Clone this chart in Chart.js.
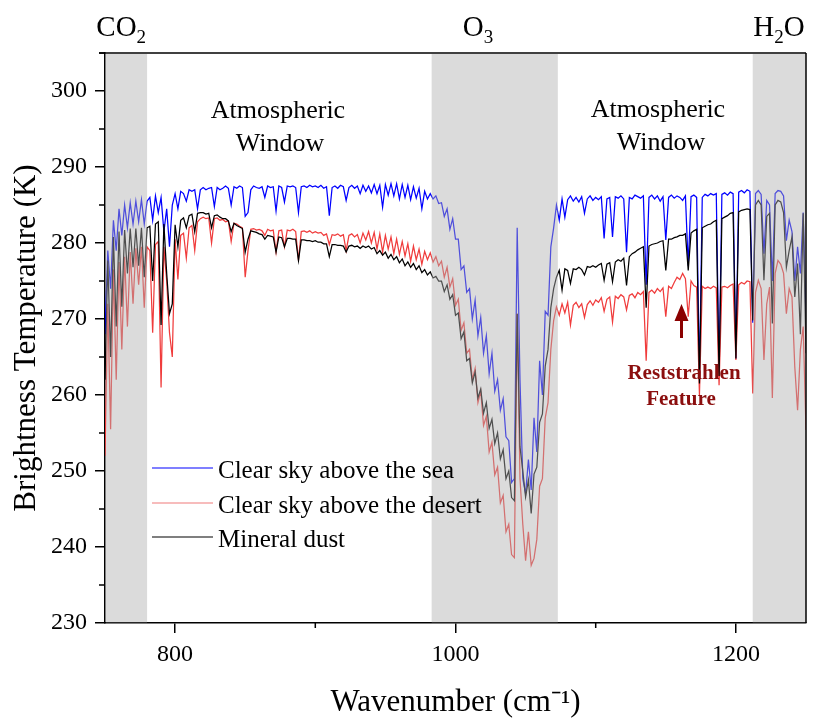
<!DOCTYPE html>
<html><head><meta charset="utf-8">
<script src="https://cdn.jsdelivr.net/npm/chart.js@4"></script>
<style>html,body{margin:0;padding:0;background:#fff}canvas{display:block}</style>
</head><body>
<canvas id="c" width="813" height="720"></canvas>
<script>
// ---------- data ----------
const wavenumber = [
750,752,754,756,758,760,762,764,766,768,770,772,774,776,778,780,782,784,786,788,
790,792,794,796,798,800,802,804,806,808,810,812,814,816,818,820,822,824,826,828,
830,832,834,836,838,840,842,844,846,848,850,852,854,856,858,860,862,864,866,868,
870,872,874,876,878,880,882,884,886,888,890,892,894,896,898,900,902,904,906,908,
910,912,914,916,918,920,922,924,926,928,930,932,934,936,938,940,942,944,946,948,
950,952,954,956,958,960,962,964,966,968,970,972,974,976,978,980,982,984,986,988,
990,992,994,996,998,1000,1002,1004,1006,1008,1010,1012,1014,1016,1018,1020,1022,1024,1026,1028,
1030,1032,1034,1036,1038,1040,1042,1044,1046,1048,1050,1052,1054,1056,1058,1060,1062,1064,1066,1068,
1070,1072,1074,1076,1078,1080,1082,1084,1086,1088,1090,1092,1094,1096,1098,1100,1102,1104,1106,1108,
1110,1112,1114,1116,1118,1120,1122,1124,1126,1128,1130,1132,1134,1136,1138,1140,1142,1144,1146,1148,
1150,1152,1154,1156,1158,1160,1162,1164,1166,1168,1170,1172,1174,1176,1178,1180,1182,1184,1186,1188,
1190,1192,1194,1196,1198,1200,1202,1204,1206,1208,1210,1212,1214,1216,1218,1220,1222,1224,1226,1228,
1230,1232,1234,1236,1238,1240,1242,1244,1246,1248,1250];

const seaBT = [
268,279,274,283,279,284.5,281,285,282,285.3,
282.5,285.5,282.8,285.7,282.5,285.5,286,283,286.2,284,
286,281.5,284.5,279.5,285,286.5,284.5,286.8,286.5,285.5,
287,286.8,287,284.5,287,287.3,287,287.2,287.3,284.8,
287.3,287,287.2,287.5,287.2,285,287.4,287.2,287.5,287.3,
283.5,284,287,287.5,287.3,287.2,287.4,286,287.5,287.3,
287.4,284.2,287.5,287.3,285.4,287.5,287.4,287.5,287.3,284,
287.4,287.5,287.3,287.6,287.4,287.5,287.3,287.6,287.2,287.4,
283.6,287.3,287.5,287.2,287.6,287.4,285.6,287.3,287.6,287.2,
287.5,286.5,287.6,286.8,287.5,286.6,287.7,286.5,287.6,284.7,
287.7,286.3,287.8,286.2,287.8,285.8,287.7,286,287.6,285.7,
287.4,285.9,287.2,284.5,286.8,285.8,286.5,285.8,286.2,285.2,
285.3,283.5,284.5,281.8,283.2,280.5,280.5,276.5,277,273.5,
274,270,272.5,267.8,270.2,265.5,267.8,262.8,265.5,260.5,
262,258,259.5,254.5,254,248.5,249,282,262,249,
247,251.5,247.5,257,252.5,264.5,260,271,270.5,279.5,
282,285,283,285.8,283.4,285.7,286.2,285.5,286,285.4,
286.1,283.9,285.8,286.2,285.6,286,285.7,286.1,280.6,285.8,
286,280.8,286.1,285.9,286.2,285.8,278.8,286,285.8,286.3,
286.1,285.9,286.2,274.5,286,286.3,285.8,286.2,285.5,286.1,
280.4,286,286.3,285.9,286.2,286,285.6,286.2,277,286.1,
286.3,286,262,286,286.4,286.2,286.5,286.3,286.5,263,
286.4,286.6,286.3,286.7,286.5,264.8,286.7,286.9,286.6,287,
286.8,269.5,286.5,286.9,286.4,278.6,285.6,285,275,286.5,
286.9,286.8,286.2,280.3,283,281.5,275,279.5,276,284,
270];

const desertBT = [
252,272,255.5,276.5,262,277.5,266,278.2,269,278.8,
272,279.3,274.5,279.5,271.5,279.5,279,268.2,279.8,280.2,
261,279.5,275,268.2,265,280.5,275.2,281,281.3,278,
282,282.3,279,282.8,283.2,283.4,283.2,283.3,280,283.2,
283.3,283,283.1,282.8,282.9,280.2,282.6,282.5,282.2,282,
275.5,279,281.8,281.9,281.7,281.8,281.6,281,281.8,281.6,
281.7,278.8,281.6,281.7,279.5,281.7,281.6,281.8,281.5,277.7,
281.5,281.6,281.4,281.6,281.3,281.5,281.3,281.4,281,281.2,
279.8,281.1,281,281.2,280.9,281.1,279,281,281.2,280.8,
281.1,280,281.3,280.4,281.5,280,281.4,279.2,281.2,278.8,
281,279.2,280.8,278.6,280.5,278.5,280.2,278.3,279.9,277.6,
279.6,277.8,279.2,277.2,278.9,277.8,278.7,277.5,278.2,277,
277.6,275.5,276.8,274.2,275.3,271.8,272.6,268.5,269.5,265.5,
266,262,263.5,259,260.5,256,257.2,252.5,253.8,249.5,
250.5,245.8,246.8,242,243,239,238.6,270.7,249,243,
238.2,242,237.6,238.5,241,248,249,257,259,266,
269.8,271.6,270.5,272,270.8,272.2,269.2,271.8,272.2,271.5,
272,270.2,271.9,272.4,271.8,272.5,272.2,272.8,271,272.6,
272.9,269.6,273,272.7,273.2,272.9,271.2,273.1,273.3,272.8,
273.5,273.2,273.6,264.5,273.5,273.8,273.4,274,273.6,274.1,
270.3,274.3,274,274.8,275.5,275.2,276,275.3,270.3,275,
274.4,274.2,260,274.3,274,274.2,274,274.3,274.1,261.3,
274.2,274.3,274.1,274.4,274.6,264.6,274.5,274.8,274.6,275,
274.9,260.2,273.5,275.1,274,264.6,272,274.2,259.6,276,
277.7,277.2,276,270.7,274,272.9,263.7,258,266,269,
255.4];

const dustBT = [
262,277.7,265,280.8,269,281.5,271.6,281.7,276,281.9,
276.8,281.9,277,282,275.5,282,282.2,275,282.5,282.8,
269.2,282.5,276,270.7,272,282.4,279.5,283,283.3,282,
283.6,283.8,281.5,283.9,284,284,283.8,283.9,282,283.6,
283.7,283.4,283.2,283.2,282.9,281.5,282.6,282.3,282.1,281.9,
278.8,280.5,281.6,281.5,281.4,281.2,281.1,280.5,281,280.9,
280.8,278.8,280.8,280.7,279.5,280.6,280.6,280.5,280.5,277.7,
280.4,280.4,280.3,280.3,280.2,280.3,280.1,280.1,279.9,279.9,
278.2,279.8,279.8,279.7,279.7,279.6,278.8,279.6,279.7,279.5,
279.6,279.3,279.6,279.4,279.6,279.2,279.4,278.6,279,278.4,
278.8,278,278.5,277.8,278.2,277.4,277.9,277,277.5,276.8,
277.3,276.5,277,276.1,276.5,275.8,276.2,275.4,275.6,275,
275,273.6,274.5,272.6,273.2,270.5,270.8,267.4,268.3,264.5,
264.8,261.6,263,259.6,260.8,257.6,259,255.6,256.8,253.6,
255,251.6,252.8,249,250,246.5,246.1,270.7,253.2,250,
246.6,248.8,244.4,249.6,250.5,256.4,257.5,263.8,266,271.5,
274,275.5,276.4,273.8,276.6,276.4,274.7,276.6,276.5,276.8,
276.5,275.8,276.9,276.8,277,276.8,277.1,277.3,275.1,277.2,
277.4,274.9,277.5,277.8,277.6,278,274.4,278.2,278.6,278.8,
279.1,279.3,279.5,271.5,279.6,279.8,279.9,280,280.2,280.3,
276.4,280.5,280.5,280.7,280.8,281,281,281.2,276.4,281.3,
281.6,281.8,261.5,282,282.2,282.4,282.5,282.8,283,262.5,
283.2,283.4,283.6,283.9,284,264.8,284.1,284.3,284.4,284.5,
284.4,269.8,285,285.6,285,275.1,283.5,283.9,269.4,285,
285.6,285.4,284,276.8,279,280.8,272.9,277.3,268,283.9,
265.5];

const seriesNames = ['Clear sky above the sea', 'Clear sky above the desert', 'Mineral dust'];
const xMajorTicks = [800, 1000, 1200];
const xMinorTicks = [900, 1100];
const yMajorTicks = [230, 240, 250, 260, 270, 280, 290, 300];
const yMinorTicks = [235, 245, 255, 265, 275, 285, 295, 305];
const bandFrom = [750, 983, 1212];
const bandTo = [780, 1073, 1250];
const bandMain = ['CO', 'O', 'H'];
const bandSub = ['2', '3', '2'];
const bandTail = ['', '', 'O'];
const bandLabelAt = [743.8, 1005.2, 1212.4];

// ---------- styling ----------
const SERIF = "'Liberation Serif', 'Times New Roman', serif";
const colors = ['#0000ff', '#f03c3c', '#000000'];
const legendColors = ['#0000ff', '#f07a7a', '#000000'];

const pts = arr => wavenumber.map((x, i) => ({x: x, y: arr[i]}));

const decor = {
  id: 'decor',
  afterDatasetsDraw(chart) {
    const {ctx, chartArea: a, scales: {x, y}} = chart;
    ctx.save();
    ctx.strokeStyle = '#000';
    ctx.lineWidth = 1.5;
    ctx.beginPath(); ctx.moveTo(a.left - 6, a.top); ctx.lineTo(a.right, a.top); ctx.stroke();
    ctx.beginPath();
    yMinorTicks.forEach(v => { const p = y.getPixelForValue(v); ctx.moveTo(a.left - 6, p); ctx.lineTo(a.left, p); });
    xMinorTicks.forEach(v => { const p = x.getPixelForValue(v); ctx.moveTo(p, a.bottom); ctx.lineTo(p, a.bottom + 5); });
    ctx.stroke();
    ctx.fillStyle = 'rgba(175,175,175,0.45)';
    for (let i = 0; i < bandFrom.length; i++) {
      let x0 = x.getPixelForValue(bandFrom[i]);
      let x1 = x.getPixelForValue(bandTo[i]);
      if (bandFrom[i] <= x.min) x0 += 1;
      ctx.fillRect(x0, a.top + 1, x1 - x0, a.bottom - a.top - 1.5);
    }
    ctx.beginPath(); ctx.moveTo(a.right, a.top); ctx.lineTo(a.right, a.bottom); ctx.stroke();

    ctx.fillStyle = '#000';
    ctx.textBaseline = 'alphabetic';
    ctx.textAlign = 'left';
    for (let i = 0; i < bandMain.length; i++) {
      let px = x.getPixelForValue(bandLabelAt[i]);
      ctx.font = '29px ' + SERIF;
      ctx.fillText(bandMain[i], px, 36);
      px += ctx.measureText(bandMain[i]).width;
      ctx.font = '19px ' + SERIF;
      ctx.fillText(bandSub[i], px, 43);
      px += ctx.measureText(bandSub[i]).width;
      if (bandTail[i]) { ctx.font = '29px ' + SERIF; ctx.fillText(bandTail[i], px, 36); }
    }

    ctx.textAlign = 'center';
    ctx.font = '26px ' + SERIF;
    ctx.fillText('Atmospheric', 278, 118);
    ctx.fillText('Window', 280, 151);
    ctx.fillText('Atmospheric', 658, 117);
    ctx.fillText('Window', 661, 150);

    ctx.fillStyle = '#8b0e0e';
    ctx.font = 'bold 21px ' + SERIF;
    ctx.fillText('Reststrahlen', 684, 379);
    ctx.fillText('Feature', 681, 405);
    ctx.fillStyle = '#8b0000';
    ctx.fillRect(680, 320, 3, 18);
    ctx.beginPath();
    ctx.moveTo(681.5, 304); ctx.lineTo(674.5, 321); ctx.lineTo(688.5, 321); ctx.closePath(); ctx.fill();

    const rows = [468, 503, 537];
    ctx.textAlign = 'left';
    ctx.font = '25px ' + SERIF;
    for (let i = 0; i < seriesNames.length; i++) {
      ctx.strokeStyle = legendColors[i];
      ctx.lineWidth = 1.2;
      ctx.beginPath(); ctx.moveTo(152, rows[i]); ctx.lineTo(213, rows[i]); ctx.stroke();
      ctx.fillStyle = '#000';
      ctx.fillText(seriesNames[i], 218, rows[i] + 10);
    }
    ctx.restore();
  }
};

new Chart(document.getElementById('c'), {
  type: 'line',
  data: {
    datasets: [
      {label: seriesNames[0], data: pts(seaBT), borderColor: colors[0], order: 2},
      {label: seriesNames[1], data: pts(desertBT), borderColor: colors[1], order: 1},
      {label: seriesNames[2], data: pts(dustBT), borderColor: colors[2], order: 0}
    ]
  },
  options: {
    responsive: false,
    animation: false,
    devicePixelRatio: 1,
    parsing: false,
    elements: {line: {borderWidth: 1.25, tension: 0}, point: {radius: 0}},
    layout: {padding: {top: 53, right: 7, left: 0, bottom: 0}},
    plugins: {legend: {display: false}, tooltip: {enabled: false}},
    scales: {
      x: {
        type: 'linear', min: 750, max: 1250,
        afterBuildTicks: s => { s.ticks = xMajorTicks.map(v => ({value: v})); },
        afterFit: s => { s.height = 97; },
        ticks: {color: '#000', font: {family: SERIF, size: 24}, padding: 7, callback: v => String(v)},
        grid: {drawOnChartArea: false, tickLength: 10, color: '#000', lineWidth: 1.5},
        border: {color: '#000', width: 1.5},
        title: {display: true, text: 'Wavenumber (cm\u207B\u00B9)', color: '#000',
                font: {family: SERIF, size: 31, lineHeight: 1.1}, padding: {bottom: 0, top: 0}}
      },
      y: {
        type: 'linear', min: 230, max: 305,
        afterBuildTicks: s => { s.ticks = yMajorTicks.map(v => ({value: v})); },
        afterFit: s => { s.width = 105; },
        ticks: {color: '#000', font: {family: SERIF, size: 24}, padding: 8, callback: v => String(v)},
        grid: {drawOnChartArea: false, tickLength: 10, color: '#000', lineWidth: 1.5},
        border: {color: '#000', width: 1.5},
        title: {display: true, text: 'Brightness Temperature (K)', color: '#000',
                font: {family: SERIF, size: 31, lineHeight: 1.1}, padding: {top: 10, bottom: 0}}
      }
    }
  },
  plugins: [decor]
});
</script>
</body></html>
